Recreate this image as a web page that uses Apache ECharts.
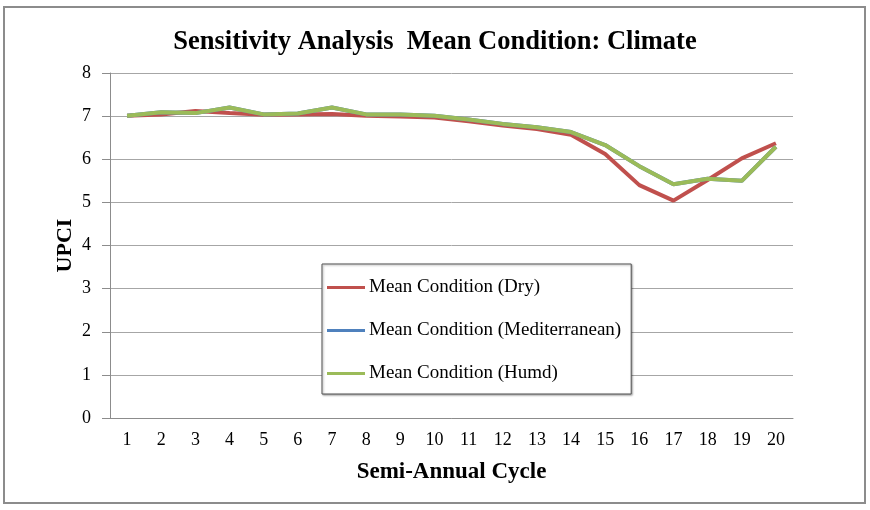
<!DOCTYPE html>
<html>
<head>
<meta charset="utf-8">
<script src="https://cdn.jsdelivr.net/npm/echarts@6/dist/echarts.min.js"></script>
<style>
	body{margin:0;background:#fff;}
	#chart{width:870px;height:510px;}
</style>
</head>
<body>
<div id="chart"></div>
<script>
	var cycles = ['1','2','3','4','5','6','7','8','9','10','11','12','13','14','15','16','17','18','19','20'];
	var dryVals = [7.01, 7.04, 7.12, 7.07, 7.03, 7.04, 7.05, 7.01, 6.99, 6.97, 6.88, 6.78, 6.70, 6.57, 6.12, 5.40, 5.04, 5.52, 6.02, 6.37];
	var medVals = [7.01, 7.09, 7.07, 7.20, 7.04, 7.06, 7.20, 7.04, 7.04, 7.01, 6.92, 6.82, 6.74, 6.63, 6.33, 5.84, 5.42, 5.55, 5.50, 6.29];
	var humdVals = [7.01, 7.09, 7.07, 7.20, 7.04, 7.06, 7.20, 7.04, 7.04, 7.01, 6.92, 6.82, 6.74, 6.63, 6.33, 5.84, 5.42, 5.55, 5.50, 6.29];
	var yTicks = [0, 8, 1];

	var serif = '"Liberation Serif", "DejaVu Serif", serif';
	var chart = echarts.init(document.getElementById('chart'));

	function lineSeries(name, data, color){
		return {
			name: name,
			type: 'line',
			data: data,
			showSymbol: false,
			symbol: 'none',
			lineStyle: {color: color, width: 4},
			itemStyle: {color: color}
		};
	}

	var option = {
		backgroundColor: '#fff',
		animation: false,
		title: {
			text: 'Sensitivity Analysis  Mean Condition: Climate',
			left: 'center',
			top: 24,
			textStyle: {fontFamily: serif, fontSize: 26.5, fontWeight: 'bold', color: '#000'}
		},
		grid: {left: 110, right: 77, top: 73, bottom: 92},
		legend: {
			orient: 'vertical',
			left: 322,
			top: 264,
			padding: [14, 10, 11, 5],
			itemGap: 24,
			itemWidth: 38,
			itemHeight: 3,
			icon: 'rect',
			backgroundColor: '#fff',
			borderColor: '#555',
			borderWidth: 1,
			shadowColor: 'rgba(0,0,0,0.35)',
			shadowBlur: 2,
			shadowOffsetX: 1,
			shadowOffsetY: 1,
			textStyle: {fontFamily: serif, fontSize: 19, color: '#000', lineHeight: 19, padding: [0, 0, 0, -1]},
			data: ['Mean Condition (Dry)', 'Mean Condition (Mediterranean)', 'Mean Condition (Humd)']
		},
		xAxis: {
			type: 'category',
			data: cycles,
			boundaryGap: true,
			name: 'Semi-Annual Cycle',
			nameLocation: 'middle',
			nameGap: 43,
			nameMoveOverlap: false,
			nameTextStyle: {fontFamily: serif, fontSize: 23, fontWeight: 'bold', color: '#000'},
			axisLine: {lineStyle: {color: '#8c8c8c', width: 1}},
			axisTick: {show: false},
			axisLabel: {fontFamily: serif, fontSize: 18, color: '#000', margin: 13}
		},
		yAxis: {
			type: 'value',
			min: yTicks[0],
			max: yTicks[1],
			interval: yTicks[2],
			name: 'UPCI',
			nameLocation: 'middle',
			nameRotate: 90,
			nameGap: 34,
			nameMoveOverlap: false,
			nameTextStyle: {fontFamily: serif, fontSize: 22, fontWeight: 'bold', color: '#000'},
			axisLine: {show: true, lineStyle: {color: '#8c8c8c', width: 1}},
			axisTick: {show: true, length: 8, lineStyle: {color: '#8c8c8c'}},
			splitLine: {lineStyle: {color: '#a6a6a6', width: 1}},
			axisLabel: {fontFamily: serif, fontSize: 18, color: '#000', margin: 19}
		},
		series: [
			lineSeries('Mean Condition (Dry)', dryVals, '#C0504D'),
			lineSeries('Mean Condition (Mediterranean)', medVals, '#4F81BD'),
			lineSeries('Mean Condition (Humd)', humdVals, '#9BBB59')
		],
		graphic: [{
			type: 'rect',
			shape: {x: 4, y: 7, width: 861, height: 496},
			style: {fill: 'none', stroke: '#8c8c8c', lineWidth: 2},
			silent: true,
			z: -1
		}]
	};

	chart.setOption(option);
</script>
</body>
</html>
